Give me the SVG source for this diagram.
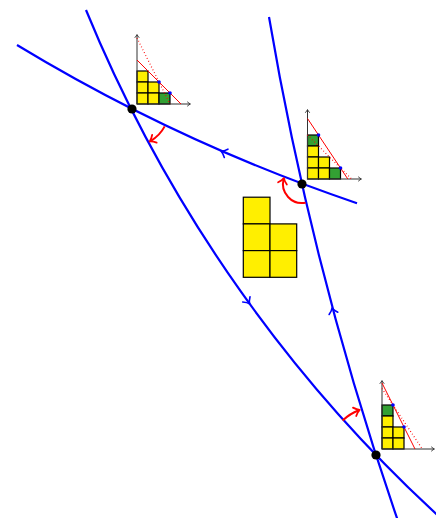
<svg xmlns="http://www.w3.org/2000/svg" width="436" height="518" viewBox="0 0 436 518">
<style>
.geo{fill:none;stroke:#0000ff;stroke-width:2.2}
.tip{fill:none;stroke:#0000ff;stroke-width:1.6;stroke-linecap:round;stroke-linejoin:round}
.ang{fill:none;stroke:#ff0000;stroke-width:2}
.atip{fill:none;stroke:#ff0000;stroke-width:1.8;stroke-linecap:round;stroke-linejoin:round}
.y{fill:#ffef00;stroke:#000;stroke-width:1.2}
.g{fill:#33a033;stroke:#000;stroke-width:1.2}
.ax{fill:none;stroke:#333;stroke-width:1}
.axt{fill:none;stroke:#333;stroke-width:0.9;stroke-linecap:round}
.rs{fill:none;stroke:#ff0000;stroke-width:1}
.rd{fill:none;stroke:#ff0000;stroke-width:1.3;stroke-dasharray:0.8 2.4}
.bd{fill:#0000ff}
.v{fill:#000}
</style>
<defs>
<path id="ah" d="M-4.5,-4.5 Q-1.5,-1 1,0 Q-1.5,1 -4.5,4.5"/>
<path id="axh" d="M-2.5,-2 Q-0.8,-0.5 0.5,0 Q-0.8,0.5 -2.5,2"/>
</defs>
<g id="connectors">
<path class="geo" d="M17,45 A1720,1720 0 0 0 357,203.2"/>
<path class="geo" d="M86,10 A1418,1418 0 0 0 454,530"/>
<path class="geo" d="M269,17 A3157,3157 0 0 0 399.4,525"/>
<use href="#ah" class="tip" transform="translate(222,151.5) rotate(203.6)"/>
<use href="#ah" class="tip" transform="translate(249,303) rotate(54.1)"/>
<use href="#ah" class="tip" transform="translate(332.3,309) rotate(254.9)"/>
<path class="ang" d="M164.67,126.37 A37,37 0 0 1 150.5,141.04"/>
<use href="#ah" class="atip" transform="translate(150.5,141.04) rotate(150)"/>
<path class="ang" d="M305.63,202.65 A19,19 0 0 1 283.65,179.08"/>
<use href="#ah" class="atip" transform="translate(283.65,179.08) rotate(285)"/>
<path class="ang" d="M342.65,420.47 A48,48 0 0 1 358.8,410.2"/>
<use href="#ah" class="atip" transform="translate(358.8,410.2) rotate(339)"/>
</g>
<g id="vA"><circle class="v" cx="132" cy="109" r="4.6"/></g>
<g id="vB"><circle class="v" cx="302" cy="184" r="4.6"/></g>
<g id="vC"><circle class="v" cx="376" cy="455" r="4.6"/></g>
<g id="young">
<rect class="y" x="243.3" y="197.2" width="26.7" height="26.7"/>
<rect class="y" x="243.3" y="223.9" width="26.7" height="26.7"/>
<rect class="y" x="270" y="223.9" width="26.7" height="26.7"/>
<rect class="y" x="243.3" y="250.6" width="26.7" height="26.7"/>
<rect class="y" x="270" y="250.6" width="26.7" height="26.7"/>
</g>
<g id="inset1">
<rect class="y" x="137" y="71" width="11" height="11"/>
<rect class="y" x="137" y="82" width="11" height="11"/>
<rect class="y" x="148" y="82" width="11" height="11"/>
<rect class="y" x="137" y="93" width="11" height="11"/>
<rect class="y" x="148" y="93" width="11" height="11"/>
<rect class="g" x="159" y="93" width="11" height="11"/>
<path class="ax" d="M137,104 V35 M137,104 H190"/>
<use href="#axh" class="axt" transform="translate(137,35) rotate(-90)"/>
<use href="#axh" class="axt" transform="translate(190,104)"/>
<path class="rs" d="M137,60 L181,104"/>
<path class="rd" d="M137,38 L170,104"/>
<circle class="bd" cx="159" cy="82" r="1.8"/>
<circle class="bd" cx="170" cy="93" r="1.8"/>
</g>
<g id="inset2">
<rect class="g" x="307.5" y="135" width="11" height="11"/>
<rect class="y" x="307.5" y="146" width="11" height="11"/>
<rect class="y" x="307.5" y="157" width="11" height="11"/>
<rect class="y" x="318.5" y="157" width="11" height="11"/>
<rect class="y" x="307.5" y="168" width="11" height="11"/>
<rect class="y" x="318.5" y="168" width="11" height="11"/>
<rect class="g" x="329.5" y="168" width="11" height="11"/>
<path class="ax" d="M307.5,179 V110 M307.5,179 H361"/>
<use href="#axh" class="axt" transform="translate(307.5,110) rotate(-90)"/>
<use href="#axh" class="axt" transform="translate(361,179)"/>
<path class="rs" d="M307.5,118.5 L347.8,179"/>
<path class="rd" d="M307.5,135 L351.5,179"/>
<circle class="bd" cx="318.5" cy="135" r="1.8"/>
<circle class="bd" cx="340.5" cy="168" r="1.8"/>
</g>
<g id="inset3">
<rect class="g" x="382" y="405" width="11" height="11"/>
<rect class="y" x="382" y="416" width="11" height="11"/>
<rect class="y" x="382" y="427" width="11" height="11"/>
<rect class="y" x="393" y="427" width="11" height="11"/>
<rect class="y" x="382" y="438" width="11" height="11"/>
<rect class="y" x="393" y="438" width="11" height="11"/>
<path class="ax" d="M382,449 V381 M382,449 H434"/>
<use href="#axh" class="axt" transform="translate(382,381) rotate(-90)"/>
<use href="#axh" class="axt" transform="translate(434,449)"/>
<path class="rs" d="M382,383 L415,449"/>
<path class="rd" d="M382,388.5 L422.3,449"/>
<circle class="bd" cx="393" cy="405" r="1.8"/>
<circle class="bd" cx="404" cy="427" r="1.8"/>
</g>
</svg>
